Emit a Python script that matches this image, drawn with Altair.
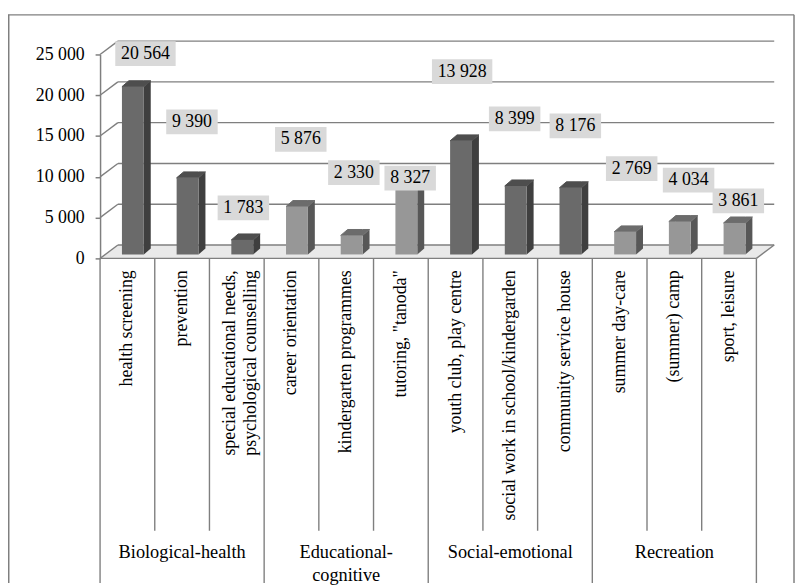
import altair as alt
import pandas as pd

# ---------------- data ----------------
groups = ["Biological-health", "Educational-\ncognitive", "Social-emotional", "Recreation"]
categories = [
    "health screening",
    "prevention",
    "special educational needs,\npsychological counselling",
    "career orientation",
    "kindergarten programmes",
    'tutoring, "tanoda"',
    "youth club, play centre",
    "social work in school/kindergarden",
    "community service house",
    "summer day-care",
    "(summer) camp",
    "sport, leisure",
]
category_group = [0, 0, 0, 1, 1, 1, 2, 2, 2, 3, 3, 3]
values = [20564, 9390, 1783, 5876, 2330, 8327, 13928, 8399, 8176, 2769, 4034, 3861]
# where the original places each value label (category units, value units)
label_x = [0.83, 1.68, 2.62, 3.67, 4.64, 5.67, 6.62, 7.58, 8.69, 9.72, 10.76, 11.67]
label_heights = [25100, 16750, 6200, 14600, 10500, 9850, 22900, 17100, 16250, 11000, 9600, 7050]
y_ticks = [0, 5000, 10000, 15000, 20000, 25000]

# ---------------- geometry helpers ----------------
N = len(categories)
X_RANGE = [93, 756]
Y_RANGE = [250, 44]
PXX = N / (X_RANGE[1] - X_RANGE[0])            # x data units per pixel
PXY = 25000 / (Y_RANGE[0] - Y_RANGE[1])         # y data units per pixel
DX, DY = 18 * PXX, 13.5 * PXY                   # depth of the back wall
BD_X, BD_Y = 7 * PXX, 6 * PXY                   # depth of a bar
BASE = 4 * PXY                                  # bar base lift
CAT_LH = 21                                     # line height of category labels

FONT = "Liberation Serif"
LINE = "#7f7f7f"
shade = ["dark" if g in (0, 2) else "light" for g in category_group]

xs = alt.Scale(domain=[0, N], range=X_RANGE, nice=False, zero=False)
ys = alt.Scale(domain=[0, 25000], range=Y_RANGE, nice=False, zero=False)
yax = alt.Axis(values=y_ticks, offset=-93, grid=False, domainColor=LINE, domainWidth=1.5,
               tickColor=LINE, tickSize=5, tickWidth=1.5, labelFont=FONT, labelFontSize=18,
               labelColor="black", labelPadding=11, title=None,
               labelExpr="replace(format(datum.value, ','), ',', ' ')")


def X(f):
    return alt.X(f, type="quantitative", scale=xs, axis=None)


def Y(f):
    return alt.Y(f, type="quantitative", scale=ys, axis=yax)


# ---------------- tables ----------------
bars = pd.DataFrame({"i": range(N), "v": values, "shade": shade})
bars["x0"] = bars["i"] + 0.40
bars["x1"] = bars["i"] + 0.80
bars["y0"] = BASE
bars["y1"] = bars["v"] + BASE

side_rows, top_rows = [], []
for r in bars.itertuples():
    side_rows += [
        {"i": r.i, "shade": r.shade, "x": r.x1, "lo": r.y0, "hi": r.y1},
        {"i": r.i, "shade": r.shade, "x": r.x1 + BD_X, "lo": r.y0 + BD_Y, "hi": r.y1 + BD_Y},
    ]
    top_rows += [
        {"i": r.i, "shade": r.shade, "x": r.x0, "lo": r.y1, "hi": r.y1},
        {"i": r.i, "shade": r.shade, "x": r.x0 + BD_X, "lo": r.y1, "hi": r.y1 + BD_Y},
        {"i": r.i, "shade": r.shade, "x": r.x1, "lo": r.y1, "hi": r.y1 + BD_Y},
        {"i": r.i, "shade": r.shade, "x": r.x1 + BD_X, "lo": r.y1 + BD_Y, "hi": r.y1 + BD_Y},
    ]
side = pd.DataFrame(side_rows)
top = pd.DataFrame(top_rows)

labels = pd.DataFrame({"i": range(N), "v": values, "lx": label_x, "ly": label_heights})
labels["txt"] = [f"{v:,}".replace(",", " ") for v in values]
hw = [(9 * len(str(v)) + 16) / 2 * PXX for v in values]
labels["bx0"] = labels["lx"] - hw
labels["bx1"] = labels["lx"] + hw
labels["by0"] = labels["ly"] - 12.5 * PXY
labels["by1"] = labels["ly"] + 12.5 * PXY

grid = pd.DataFrame({"v": y_ticks})
grid["bx0"] = DX
grid["bx1"] = N + DX
grid["by"] = grid["v"] + DY
grid["sx0"] = 0.0
grid["sx1"] = DX

floor = pd.DataFrame({
    "x": [0, DX, N, N + DX],
    "lo": [0, 0, 0, DY],
    "hi": [0, DY, DY, DY],
})
edges = pd.DataFrame({"x0": [0, N], "x1": [N, N + DX], "y0": [0, 0], "y1": [0, DY]})

n_lines = [c.count("\n") + 1 for c in categories]
cats = pd.DataFrame({
    "cx": [i + 0.5 - ((n - 1) * CAT_LH / 2 - 4 * (n - 1)) * PXX for i, n in enumerate(n_lines)],
    "cat": categories,
})
seps = pd.DataFrame({"sx": list(range(N + 1))})
seps["major"] = [i % 3 == 0 for i in range(N + 1)]
grp = pd.DataFrame({"gx": [1.5, 4.5, 7.5, 10.5], "g": groups})
one = pd.DataFrame({"a": [0]})

# ---------------- layers ----------------
border = [
    alt.Chart(one).mark_rule(color=LINE, strokeWidth=1.5).encode(
        x=alt.value(0.75), y=alt.value(4), y2=alt.value(578)),
    alt.Chart(one).mark_rule(color=LINE, strokeWidth=1.5).encode(
        x=alt.value(0), x2=alt.value(794), y=alt.value(4)),
    alt.Chart(one).mark_rule(color=LINE, strokeWidth=1.5).encode(
        x=alt.value(794), y=alt.value(4), y2=alt.value(578)),
]

floor_l = alt.Chart(floor).mark_area(color="#e9e9e9").encode(
    x=X("x"), y=Y("lo"), y2="hi")

grid_back = alt.Chart(grid).mark_rule(color=LINE, strokeWidth=1.4).encode(
    x=X("bx0"), x2="bx1", y=Y("by"), y2="by")
grid_slant = alt.Chart(grid).mark_rule(color=LINE, strokeWidth=1.4).encode(
    x=X("sx0"), x2="sx1", y=Y("v"), y2="by")
edge_l = alt.Chart(edges).mark_rule(color=LINE, strokeWidth=1.4).encode(
    x=X("x0"), x2="x1", y=Y("y0"), y2="y1")

front_col = alt.Scale(domain=["dark", "light"], range=["#6a6a6a", "#979797"])
side_col = alt.Scale(domain=["dark", "light"], range=["#3f3f3f", "#575757"])
top_col = alt.Scale(domain=["dark", "light"], range=["#4e4e4e", "#6c6c6c"])

side_l = alt.Chart(side).mark_area().encode(
    x=X("x"), y=Y("lo"), y2="hi", detail="i:N",
    fill=alt.Fill("shade:N", scale=side_col, legend=None))
top_l = alt.Chart(top).mark_area().encode(
    x=X("x"), y=Y("lo"), y2="hi", detail="i:N",
    stroke=alt.Stroke("shade:N", scale=top_col, legend=None),
    fill=alt.Fill("shade:N", scale=top_col, legend=None))
front_l = alt.Chart(bars).mark_rect().encode(
    x=X("x0"), x2="x1", y=Y("y0"), y2="y1",
    color=alt.Color("shade:N", scale=front_col, legend=None))

box_l = alt.Chart(labels).mark_rect(color="#d9d9d9").encode(
    x=X("bx0"), x2="bx1", y=Y("by0"), y2="by1")
txt_l = alt.Chart(labels).mark_text(font=FONT, fontSize=18, color="black",
                                    baseline="middle").encode(
    x=X("lx"), y=Y("ly"), text="txt:N")

sep_minor = alt.Chart(seps).transform_filter("!datum.major").mark_rule(
    color=LINE, strokeWidth=1.4).encode(x=X("sx"), y=alt.value(250), y2=alt.value(525))
sep_major = alt.Chart(seps).transform_filter("datum.major").mark_rule(
    color=LINE, strokeWidth=1.4).encode(x=X("sx"), y=alt.value(250), y2=alt.value(578))

cat_l = alt.Chart(cats).mark_text(font=FONT, fontSize=18, color="black", angle=270,
                                  align="right", baseline="middle", lineBreak="\n",
                                  lineHeight=CAT_LH).encode(
    x=X("cx"), y=alt.value(262), text="cat:N")
grp_l = alt.Chart(grp).mark_text(font=FONT, fontSize=18.5, color="black", align="center",
                                 baseline="top", lineBreak="\n", lineHeight=23).encode(
    x=X("gx"), y=alt.value(538), text="g:N")

chart = alt.layer(
    *border, floor_l, grid_back, grid_slant, edge_l,
    side_l, top_l, front_l, box_l, txt_l,
    sep_minor, sep_major, cat_l, grp_l,
).resolve_scale(
    color="independent", fill="independent", stroke="independent",
).properties(
    width=795, height=578, padding=0,
    autosize=alt.AutoSizeParams(type="none"),
    background="white",
).configure_view(stroke=None)

chart.save("out.html", embed_options={"renderer": "svg", "actions": False})
